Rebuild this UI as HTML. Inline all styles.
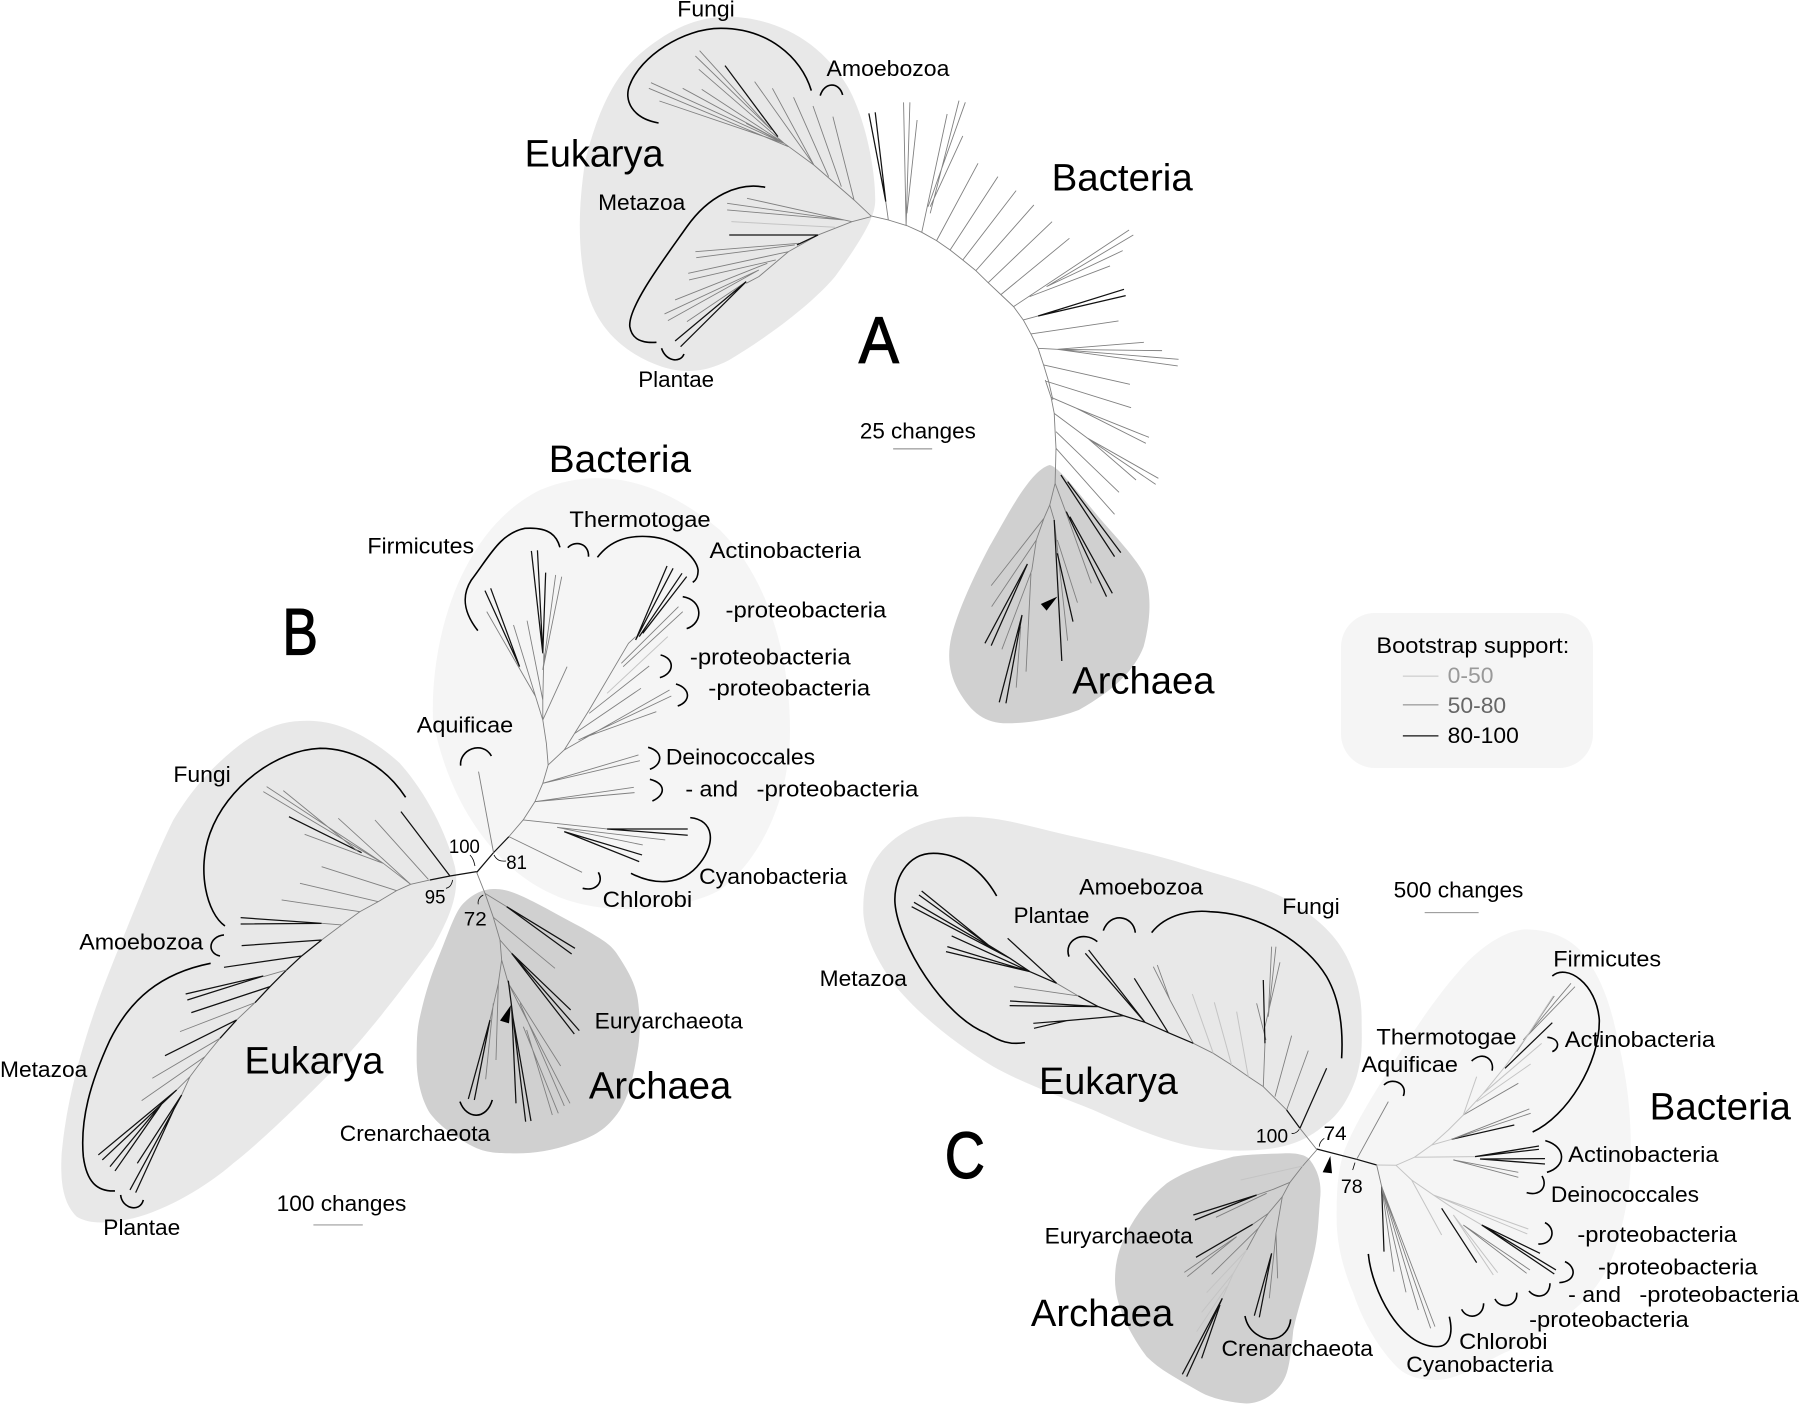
<!DOCTYPE html>
<html><head><meta charset="utf-8"><title>Phylogenetic trees</title>
<style>
html,body{margin:0;padding:0;background:#fff}
svg{display:block}
path{vector-effect:non-scaling-stroke;fill:none;stroke-linecap:butt;stroke-linejoin:round}
.l{stroke:#c4c4c4;stroke-width:1}
.m{stroke:#808080;stroke-width:.9}
.k{stroke:#111;stroke-width:1.25}
.b{stroke:#000;stroke-width:1.6}
.t{stroke:#000;stroke-width:.8}
.e{fill:#e8e8e8;stroke:none}
.a{fill:#d0d0d0;stroke:none}
.f{fill:#f5f5f5;stroke:none}
.h{fill:#000;stroke:none}
text{font-family:"Liberation Sans",sans-serif;font-size:19.5px;fill:#000}
.big{font-size:33px}
.let{font-size:57px;stroke:#000;stroke-width:1}
</style></head><body>
<svg xmlns="http://www.w3.org/2000/svg" width="1800" height="1405" viewBox="0 0 1800 1405">
<rect width="1800" height="1405" fill="#fff"/>

<!-- BLOBS -->
<path class="f" d="M433 720C430 640 460 530 540 490C600 465 660 480 720 530C770 580 790 660 790 730C790 800 760 860 720 890C680 912 600 918 550 893C500 870 450 810 433 720Z"/>
<g transform="matrix(.4231 0 0 .3333 560 0)"><path class="e" d="M400 50C520 55 620 130 680 260C720 350 745 500 745 600C745 640 730 690 650 830C590 920 480 1020 400 1080C340 1120 290 1120 240 1100C150 1060 80 980 60 850C45 760 40 640 60 480C90 330 130 220 200 150C260 90 320 50 400 50Z"/></g>
<g transform="matrix(.447 0 0 .3333 900 380)"><path class="a" d="M335 255C355 260 400 340 450 420C490 480 530 540 545 580C560 620 565 700 545 800C525 870 480 930 400 990C340 1020 280 1030 240 1030C190 1030 160 1000 130 930C110 880 105 830 115 770C130 690 165 590 200 500C235 420 290 270 335 255Z"/></g>
<g transform="matrix(.3333 0 0 .3333 0 720)"><path class="e" d="M900 3C1000 -5 1100 40 1200 130C1280 220 1340 340 1365 440C1380 520 1350 590 1300 680C1220 790 1100 950 1000 1050C900 1150 800 1250 700 1330C620 1400 500 1470 400 1495C330 1510 270 1515 230 1490C190 1450 180 1390 185 1300C195 1200 210 1130 230 1050C270 900 310 800 350 700C420 530 470 400 520 300C580 200 640 140 700 90C760 40 830 5 900 3Z"/></g>
<g transform="matrix(.3333 0 0 .3333 400 860)"><path class="a" d="M280 87C320 85 360 105 400 125C450 150 500 180 550 205C600 235 630 250 650 280C690 340 710 380 715 430C722 490 720 520 715 560C700 650 690 700 660 750C620 810 580 830 520 850C450 875 390 882 330 880C280 880 250 875 220 860C170 835 120 800 90 760C65 720 50 660 50 600C50 550 50 510 60 470C75 400 95 340 120 280C145 220 165 155 190 130C220 100 250 88 280 87Z"/></g>
<g transform="matrix(.3333 0 0 .3333 860 810)"><path class="e" d="M320 20C420 20 510 50 600 70C730 100 880 130 1000 170C1110 205 1220 230 1300 280C1380 330 1430 380 1460 440C1490 500 1505 560 1505 620C1505 690 1510 730 1490 800C1470 860 1440 910 1400 940C1350 985 1300 1005 1240 1015C1170 1025 1080 1025 1000 1010C900 990 800 945 700 900C600 860 490 820 400 770C300 710 180 620 100 520C50 450 15 380 10 310C8 240 20 180 60 130C100 80 180 20 320 20Z"/></g>
<g transform="matrix(.3333 0 0 .3333 1320 920)"><path class="f" d="M620 28C690 30 740 50 780 90C830 150 860 220 880 300C905 400 925 500 930 600C935 690 935 770 920 850C905 930 890 990 860 1050C820 1120 780 1160 720 1200C660 1240 610 1275 550 1300C480 1335 410 1380 350 1380C300 1380 260 1370 230 1340C180 1290 130 1210 100 1120C70 1050 50 970 50 900C50 830 50 770 70 700C100 620 150 540 200 460C270 350 340 240 420 150C480 80 560 28 620 28Z"/></g>
<g transform="matrix(.3333 0 0 .3333 1000 1140)"><path class="a" d="M850 40C890 38 920 45 930 60C960 100 965 140 960 180C955 240 955 290 940 350C920 430 895 500 880 570C875 620 870 670 860 700C840 760 780 795 730 790C680 785 630 775 590 750C530 715 480 690 440 650C395 590 345 500 345 420C345 360 360 320 380 280C410 220 450 170 500 130C560 90 630 70 700 50C750 42 800 42 850 40Z"/></g>
<rect x="1341" y="613" width="252" height="155" rx="34" ry="34" fill="#f5f5f5"/>

<!-- TREE A upper -->
<g transform="matrix(.4231 0 0 .3333 560 0)">
<path class="m" d="M735 648L695 600L600 495L530 430L440 370M330 152L500 390M320 168L500 390M328 208L530 430M215 248L530 430M290 265L530 430M210 265L540 440M235 303L530 430M335 268L530 430M460 245L600 495M502 265L600 495M552 292L635 530M598 318L665 560M645 350L695 600"/>
<path class="k" d="M390 197L515 410"/>
<path class="m" d="M735 650L690 665L610 705L540 755L470 830L440 850M442 595L690 665M395 610L670 660M395 630L670 660M320 755L565 730M322 773L555 735M303 820L540 755M305 840L510 780M272 900L490 790M247 942L470 810M255 962L470 810M300 965L440 845"/>
<path class="l" d="M405 665L650 682"/>
<path class="k" d="M400 705L610 705M272 1023L440 845M285 1040L440 845M610 705L560 735"/>
<path class="m" d="M735 648L776 660L820 677L855 697L890 722L922 750L952 780L983 812L1012 848L1042 884L1072 920L1095 960L1113 1002L1130 1045L1143 1095L1155 1145L1165 1200M770 605L776 660M812 307L818 677M827 307L818 677M844 360L820 640M915 342L855 697M943 302L875 640M958 307L870 620M952 408L875 620M988 490L890 722M1035 530L922 750M1078 572L952 780M1120 615L983 812M1163 665L1012 848M1204 715L1042 884M1345 690L1072 920M1355 705L1150 860M1330 752L1150 860M1300 798L1110 890M1095 960L1130 948M1113 1002L1320 963M1130 1045L1175 1048L1380 1027M1175 1048L1423 1052M1175 1048L1462 1078M1175 1048L1460 1098M1143 1095L1347 1153"/>
<path class="k" d="M730 340L770 605M745 337L770 605M1333 868L1130 948M1337 887L1130 948"/>
<path class="b" d="M233 369C170 355 150 300 165 255C190 170 290 85 380 85C490 85 570 170 594 272"/>
<path class="b" d="M615 287C625 245 660 245 668 285"/>
<path class="b" d="M485 562C420 545 350 590 300 680C250 770 160 920 165 980C170 1020 195 1030 228 1027"/>
<path class="b" d="M240 1045C250 1085 285 1090 293 1062"/>
</g>

<!-- TREE A lower -->
<g transform="matrix(.447 0 0 .3333 900 380)">
<path class="m" d="M325 0L338 52L345 100L347 155L349 205L347 310L335 375L322 415L305 480L295 570M325 3L517 83M338 52L395 85L557 172M395 85L550 190M345 100L420 175L578 295M420 175L572 313M420 175L528 300M349 155L490 337M349 205L480 403M347 310L372 400L428 610M335 375L345 420L375 782M352 480L397 668M322 415L204 617M305 480L205 680M295 570L228 808M293 580L282 875M270 740L260 923"/>
<path class="k" d="M360 285L480 530M375 305L494 518M372 395L462 650M380 410L475 640M345 420L362 843M352 520L387 725M285 552L190 790M285 552L204 797M273 705L222 967M273 705L237 970"/>
<path class="h" d="M352 650L315 672L328 692Z"/>
</g>

<!-- TREE B bacteria -->
<g transform="matrix(.357 0 0 .3333 400 470)">
<path class="k" d="M215 1207L262 1148L305 1100"/>
<path class="m" d="M305 1100L345 1050L378 995L400 940L415 885L410 820L400 750L400 690L403 550M262 1148L220 905M305 1100L510 1207M345 1050L580 1077M440 1072L743 1110M440 1072L680 1125M378 995L655 952M378 995L657 968M400 940L668 855M400 940L672 872M415 885L460 840L530 720L640 520L660 500M460 840L755 660M500 810L760 678M510 805L718 725M490 790L675 655M530 730L698 588M620 580L780 410M625 590L792 425M400 750L468 590M400 690L356 452M400 750L318 465M380 680L243 425M400 600L436 315M400 600L453 320"/>
<path class="l" d="M580 670L750 500"/>
<path class="k" d="M580 1077L806 1077M580 1077L806 1096M460 1085L678 1155M460 1085L670 1175M660 510L748 288M660 510L765 295M670 500L790 310M680 490L803 320M335 590L238 362M335 590L254 355M400 550L368 243M400 550L385 241M400 550L408 308"/>
<path class="b" d="M218 482C180 430 170 380 200 330C250 260 280 190 350 175C420 170 440 200 448 232"/>
<path class="b" d="M470 233C490 210 530 220 528 260"/>
<path class="b" d="M553 262C590 210 640 195 700 200C770 205 830 260 835 300C835 320 830 330 820 337"/>
<path class="b" d="M792 380C850 390 850 460 803 476M730 555C770 565 770 610 728 623M773 642C815 655 815 695 778 708M170 887C165 840 230 810 256 858M695 832C740 845 735 885 700 898M700 928C745 940 745 975 707 993"/>
<path class="b" d="M813 1043C880 1050 885 1120 840 1180C790 1250 710 1245 647 1210"/>
</g>

<!-- TREE B eukarya -->
<g transform="matrix(.3333 0 0 .3333 0 720)">
<path class="k" d="M1430 455L1350 468L1290 480M965 660L905 708L860 750M810 800L765 848M710 900L660 955M1350 468L1203 275M965 610L722 593M965 610L722 612M965 660L725 677M905 708L672 742M790 768L557 822M790 768L562 840M810 800L574 878M710 900L495 1007M867 290L1085 398M530 1110L295 1305M530 1110L307 1320M490 1145L330 1340M490 1145L345 1353M545 1125L412 1330M545 1125L390 1410M530 1150L407 1418M860 750L810 800"/>
<path class="m" d="M1290 480L1232 493L1190 512L1135 545L1080 575L1025 615L965 660M765 848L710 900M660 955L615 1010L570 1070L545 1125M1285 478L1125 300M1232 493L1015 295M1232 493L1150 430L914 343M1150 430L790 215M1150 430L800 200M850 212L1075 395M1190 512L965 440M1135 545L900 490M1080 575L845 540M1025 615L965 610M860 750L790 770M765 848L540 935M660 955L457 1075M615 1010L425 1142M570 1070L530 1110"/>
<path class="b" d="M1217 232C1150 130 1050 85 960 85C830 90 680 200 630 340C590 450 620 580 675 618"/>
<path class="b" d="M672 645C625 650 620 700 660 708"/>
<path class="b" d="M632 730C480 760 390 840 330 960C270 1090 240 1200 250 1310C260 1385 290 1415 345 1413"/>
<path class="b" d="M362 1425C365 1465 420 1480 430 1440M1380 1145C1400 1200 1460 1200 1477 1140"/>
<path class="t" d="M1410 405C1420 415 1422 425 1425 438M1482 405C1490 420 1500 425 1518 423M1358 480C1355 495 1350 502 1338 505M1450 525C1440 530 1432 540 1435 553"/>
</g>

<!-- TREE B archaea -->
<g transform="matrix(.3333 0 0 .3333 400 860)">
<path class="m" d="M230 37L255 100L280 172L300 240L305 300L325 370L350 420M255 100L320 140M280 172L465 325M300 240L335 280M305 300L295 370L288 600M280 430L257 658M325 370L482 618M350 420L510 730M360 430L493 738M370 500L475 760M380 510L457 765M295 370L270 480"/>
<path class="k" d="M320 140L525 265M320 140L515 282M335 280L512 450M335 280L538 512M335 280L523 522M270 480L205 717M270 480L223 720M325 362L335 440L348 730M335 440L377 785M335 450L393 783"/>
<path class="h" d="M333 435L300 482L327 490Z"/>
<path class="b" d="M595 37C612 65 590 95 548 85"/>
</g>

<!-- TREE C eukarya -->
<g transform="matrix(.3333 0 0 .3333 860 810)">
<path class="m" d="M1370 1018L1320 955M1280 900L1210 830L1165 800L1115 765L1060 730L1000 700M1280 900L1345 722M1245 860L1295 677M1218 690L1190 580M1215 650L1260 457M1225 620L1235 410M1225 620L1248 410M1210 830L1215 700M1000 700L930 570L880 470M930 570L892 465M655 558L462 530M655 558L590 520"/>
<path class="l" d="M1165 800L1130 605M1115 765L1063 577M1060 730L997 552"/>
<path class="k" d="M1320 955L1280 900M1320 955L1400 775M1215 700L1210 510M1000 700L925 668L855 637L790 617L715 590L655 558M925 668L823 505M855 637L686 420M855 637L676 430M790 617L620 632L520 640M620 632L522 655M715 590L450 573M715 590L449 587M590 520L443 385M590 520L510 485L450 445L385 405L185 243M385 405L177 255M450 445L162 277M450 445L155 290M510 485L275 378M510 485L262 410M510 485L258 425"/>
<path class="b" d="M410 258C360 170 290 130 220 130C140 130 100 210 105 280C115 400 250 620 380 670C420 695 450 705 495 698"/>
<path class="b" d="M627 440C610 390 670 360 712 395M730 362C750 305 820 315 826 368"/>
<path class="b" d="M875 368C920 310 1000 300 1050 305C1200 310 1340 400 1400 500C1440 570 1450 660 1445 745"/>
<path class="t" d="M1295 970C1305 972 1313 965 1318 958M1378 1010C1378 1000 1385 990 1393 985"/>
</g>

<!-- TREE C bacteria -->
<g transform="matrix(.3333 0 0 .3333 1320 920)">
<path class="k" d="M-10 687L110 718L170 735M555 445L697 308M395 658L583 615M465 710L657 678M465 710L657 688M480 717L675 716M480 717L675 732M365 865L470 1028M485 915L660 1000M485 915L708 1050M485 915L703 1062M185 800L192 995"/>
<path class="m" d="M110 718L205 545M430 585L595 490M590 395L703 228M610 360L753 190M610 360L765 200M395 658L628 567M395 658L632 580M400 720L595 757M400 720L595 772M430 915L630 1050M430 915L620 1060M170 735L185 800M185 800L222 1055M185 800L258 1117M185 800L295 1170M185 800L332 1225M185 800L345 1220"/>
<path class="l" d="M170 735L228 736L283 712L335 675L385 630L430 585L490 520L555 440L620 350L700 228M430 585L470 470M470 545L632 432M490 520L665 370M335 675L395 658M283 712L465 710M228 736L275 780L340 825L400 865L485 915M275 780L365 945M340 825L625 927M340 825L622 942M400 885L520 1065M400 885L533 1058"/>
<path class="b" d="M697 168C740 130 830 190 838 300C840 430 740 590 638 636"/>
<path class="b" d="M682 352C720 355 720 385 697 395M455 423C490 390 525 420 516 452M192 495C215 470 265 490 250 528M676 662C740 680 740 740 681 757M666 768C685 800 660 830 620 818M675 908C710 925 700 975 655 972M735 1025C770 1040 770 1085 718 1088M690 1090C690 1130 650 1140 627 1113M590 1118C595 1160 540 1170 525 1137M491 1150C490 1195 440 1200 425 1168"/>
<path class="b" d="M145 1002C155 1110 240 1280 350 1280C390 1280 400 1240 388 1190"/>
<path class="t" d="M105 728L98 750"/>
<path class="h" d="M31 708L8 757L36 760Z"/>
</g>

<!-- TREE C archaea -->
<g transform="matrix(.3333 0 0 .3333 1000 1140)">
<path class="m" d="M950 30L908 78L870 127L847 170L805 220L775 265L740 330M870 127L820 148L770 165M800 160L648 232M847 170L828 280L833 415M828 280L808 475M805 220L758 253M710 290L553 397M710 290L562 410M775 265L635 403"/>
<path class="l" d="M908 78L722 120M740 330L700 400L667 475M740 330L620 458M700 400L605 517M680 440L590 575"/>
<path class="k" d="M770 165L580 225M770 165L585 240M815 340L763 527M815 340L778 532M758 253L588 352M667 475L547 703M667 475L560 710M660 495L605 655"/>
<path class="b" d="M735 528C745 580 790 598 815 597C850 595 870 565 872 538"/>
</g>

<!-- TEXT & bars, overview coordinates -->
<g transform="scale(1.148)">
<path class="m" d="M778 391L812 391M273 1067L316 1067M1241 795L1288 795"/>
<path class="l" d="M1222 589L1253 589"/>
<path class="m" d="M1222 614L1253 614"/>
<path class="k" d="M1222 641L1253 641"/>

<text x="590" y="14.5" textLength="50" lengthAdjust="spacingAndGlyphs">Fungi</text>
<text x="720" y="66" textLength="107" lengthAdjust="spacingAndGlyphs">Amoebozoa</text>
<text class="big" x="457" y="145" textLength="121" lengthAdjust="spacingAndGlyphs">Eukarya</text>
<text x="521" y="183" textLength="76" lengthAdjust="spacingAndGlyphs">Metazoa</text>
<text x="556" y="337" textLength="66" lengthAdjust="spacingAndGlyphs">Plantae</text>
<text class="big" x="916" y="166" textLength="123" lengthAdjust="spacingAndGlyphs">Bacteria</text>
<text class="let" x="748" y="316" textLength="35" lengthAdjust="spacingAndGlyphs">A</text>
<text x="749" y="382" textLength="101" lengthAdjust="spacingAndGlyphs">25 changes</text>
<text class="big" x="934" y="604" textLength="124" lengthAdjust="spacingAndGlyphs">Archaea</text>
<text x="1199" y="569" textLength="168" lengthAdjust="spacingAndGlyphs">Bootstrap support:</text>
<text x="1261" y="595" textLength="40" lengthAdjust="spacingAndGlyphs" style="fill:#999">0-50</text>
<text x="1261" y="621" textLength="51" lengthAdjust="spacingAndGlyphs" style="fill:#666">50-80</text>
<text x="1261" y="647" textLength="62" lengthAdjust="spacingAndGlyphs">80-100</text>

<text class="big" x="478" y="411" textLength="124" lengthAdjust="spacingAndGlyphs">Bacteria</text>
<text x="496" y="459" textLength="123" lengthAdjust="spacingAndGlyphs">Thermotogae</text>
<text x="320" y="482" textLength="93" lengthAdjust="spacingAndGlyphs">Firmicutes</text>
<text x="618" y="486" textLength="132" lengthAdjust="spacingAndGlyphs">Actinobacteria</text>
<text x="632" y="538" textLength="140" lengthAdjust="spacingAndGlyphs">-proteobacteria</text>
<text x="601" y="579" textLength="140" lengthAdjust="spacingAndGlyphs">-proteobacteria</text>
<text x="617" y="606" textLength="141" lengthAdjust="spacingAndGlyphs">-proteobacteria</text>
<text x="363" y="638" textLength="84" lengthAdjust="spacingAndGlyphs">Aquificae</text>
<text x="580" y="666" textLength="130" lengthAdjust="spacingAndGlyphs">Deinococcales</text>
<text x="597" y="694" textLength="46" lengthAdjust="spacingAndGlyphs">- and</text>
<text x="659" y="694" textLength="141" lengthAdjust="spacingAndGlyphs">-proteobacteria</text>
<text x="609" y="770" textLength="129" lengthAdjust="spacingAndGlyphs">Cyanobacteria</text>
<text x="525" y="790" textLength="78" lengthAdjust="spacingAndGlyphs">Chlorobi</text>
<text class="let" x="246" y="570" textLength="31" lengthAdjust="spacingAndGlyphs">B</text>
<text x="151" y="681" textLength="50" lengthAdjust="spacingAndGlyphs">Fungi</text>
<text x="69" y="827" textLength="108" lengthAdjust="spacingAndGlyphs">Amoebozoa</text>
<text x="0" y="938" textLength="76" lengthAdjust="spacingAndGlyphs">Metazoa</text>
<text class="big" x="213" y="935" textLength="121" lengthAdjust="spacingAndGlyphs">Eukarya</text>
<text x="90" y="1076" textLength="67" lengthAdjust="spacingAndGlyphs">Plantae</text>
<text x="241" y="1055" textLength="113" lengthAdjust="spacingAndGlyphs">100 changes</text>
<text x="391" y="743" textLength="27" lengthAdjust="spacingAndGlyphs" style="font-size:17px">100</text>
<text x="441" y="757" textLength="18" lengthAdjust="spacingAndGlyphs" style="font-size:17px">81</text>
<text x="370" y="787" textLength="18" lengthAdjust="spacingAndGlyphs" style="font-size:17px">95</text>
<text x="404" y="806" textLength="20" lengthAdjust="spacingAndGlyphs" style="font-size:17px">72</text>
<text x="518" y="896" textLength="129" lengthAdjust="spacingAndGlyphs">Euryarchaeota</text>
<text class="big" x="513" y="957" textLength="124" lengthAdjust="spacingAndGlyphs">Archaea</text>
<text x="296" y="994" textLength="131" lengthAdjust="spacingAndGlyphs">Crenarchaeota</text>

<text x="940" y="779" textLength="108" lengthAdjust="spacingAndGlyphs">Amoebozoa</text>
<text x="883" y="804" textLength="66" lengthAdjust="spacingAndGlyphs">Plantae</text>
<text x="1117" y="796" textLength="50" lengthAdjust="spacingAndGlyphs">Fungi</text>
<text x="714" y="859" textLength="76" lengthAdjust="spacingAndGlyphs">Metazoa</text>
<text class="big" x="905" y="953" textLength="121" lengthAdjust="spacingAndGlyphs">Eukarya</text>
<text class="let" x="823" y="1026" textLength="35" lengthAdjust="spacingAndGlyphs">C</text>
<text x="1214" y="782" textLength="113" lengthAdjust="spacingAndGlyphs">500 changes</text>
<text x="1353" y="842" textLength="94" lengthAdjust="spacingAndGlyphs">Firmicutes</text>
<text x="1363" y="912" textLength="131" lengthAdjust="spacingAndGlyphs">Actinobacteria</text>
<text x="1199" y="910" textLength="122" lengthAdjust="spacingAndGlyphs">Thermotogae</text>
<text x="1186" y="934" textLength="84" lengthAdjust="spacingAndGlyphs">Aquificae</text>
<text class="big" x="1437" y="975" textLength="123" lengthAdjust="spacingAndGlyphs">Bacteria</text>
<text x="1366" y="1012" textLength="131" lengthAdjust="spacingAndGlyphs">Actinobacteria</text>
<text x="1351" y="1047" textLength="129" lengthAdjust="spacingAndGlyphs">Deinococcales</text>
<text x="1374" y="1082" textLength="139" lengthAdjust="spacingAndGlyphs">-proteobacteria</text>
<text x="1392" y="1110" textLength="139" lengthAdjust="spacingAndGlyphs">-proteobacteria</text>
<text x="1366" y="1134" textLength="46" lengthAdjust="spacingAndGlyphs">- and</text>
<text x="1428" y="1134" textLength="139" lengthAdjust="spacingAndGlyphs">-proteobacteria</text>
<text x="1332" y="1156" textLength="139" lengthAdjust="spacingAndGlyphs">-proteobacteria</text>
<text x="1271" y="1175" textLength="77" lengthAdjust="spacingAndGlyphs">Chlorobi</text>
<text x="1225" y="1195" textLength="128" lengthAdjust="spacingAndGlyphs">Cyanobacteria</text>
<text x="1094" y="995" textLength="28" lengthAdjust="spacingAndGlyphs" style="font-size:17px">100</text>
<text x="1153" y="993" textLength="20" lengthAdjust="spacingAndGlyphs" style="font-size:17px">74</text>
<text x="1168" y="1039" textLength="19" lengthAdjust="spacingAndGlyphs" style="font-size:17px">78</text>
<text x="910" y="1083" textLength="129" lengthAdjust="spacingAndGlyphs">Euryarchaeota</text>
<text class="big" x="898" y="1155" textLength="124" lengthAdjust="spacingAndGlyphs">Archaea</text>
<text x="1064" y="1181" textLength="132" lengthAdjust="spacingAndGlyphs">Crenarchaeota</text>
</g>
</svg>
</body></html>
